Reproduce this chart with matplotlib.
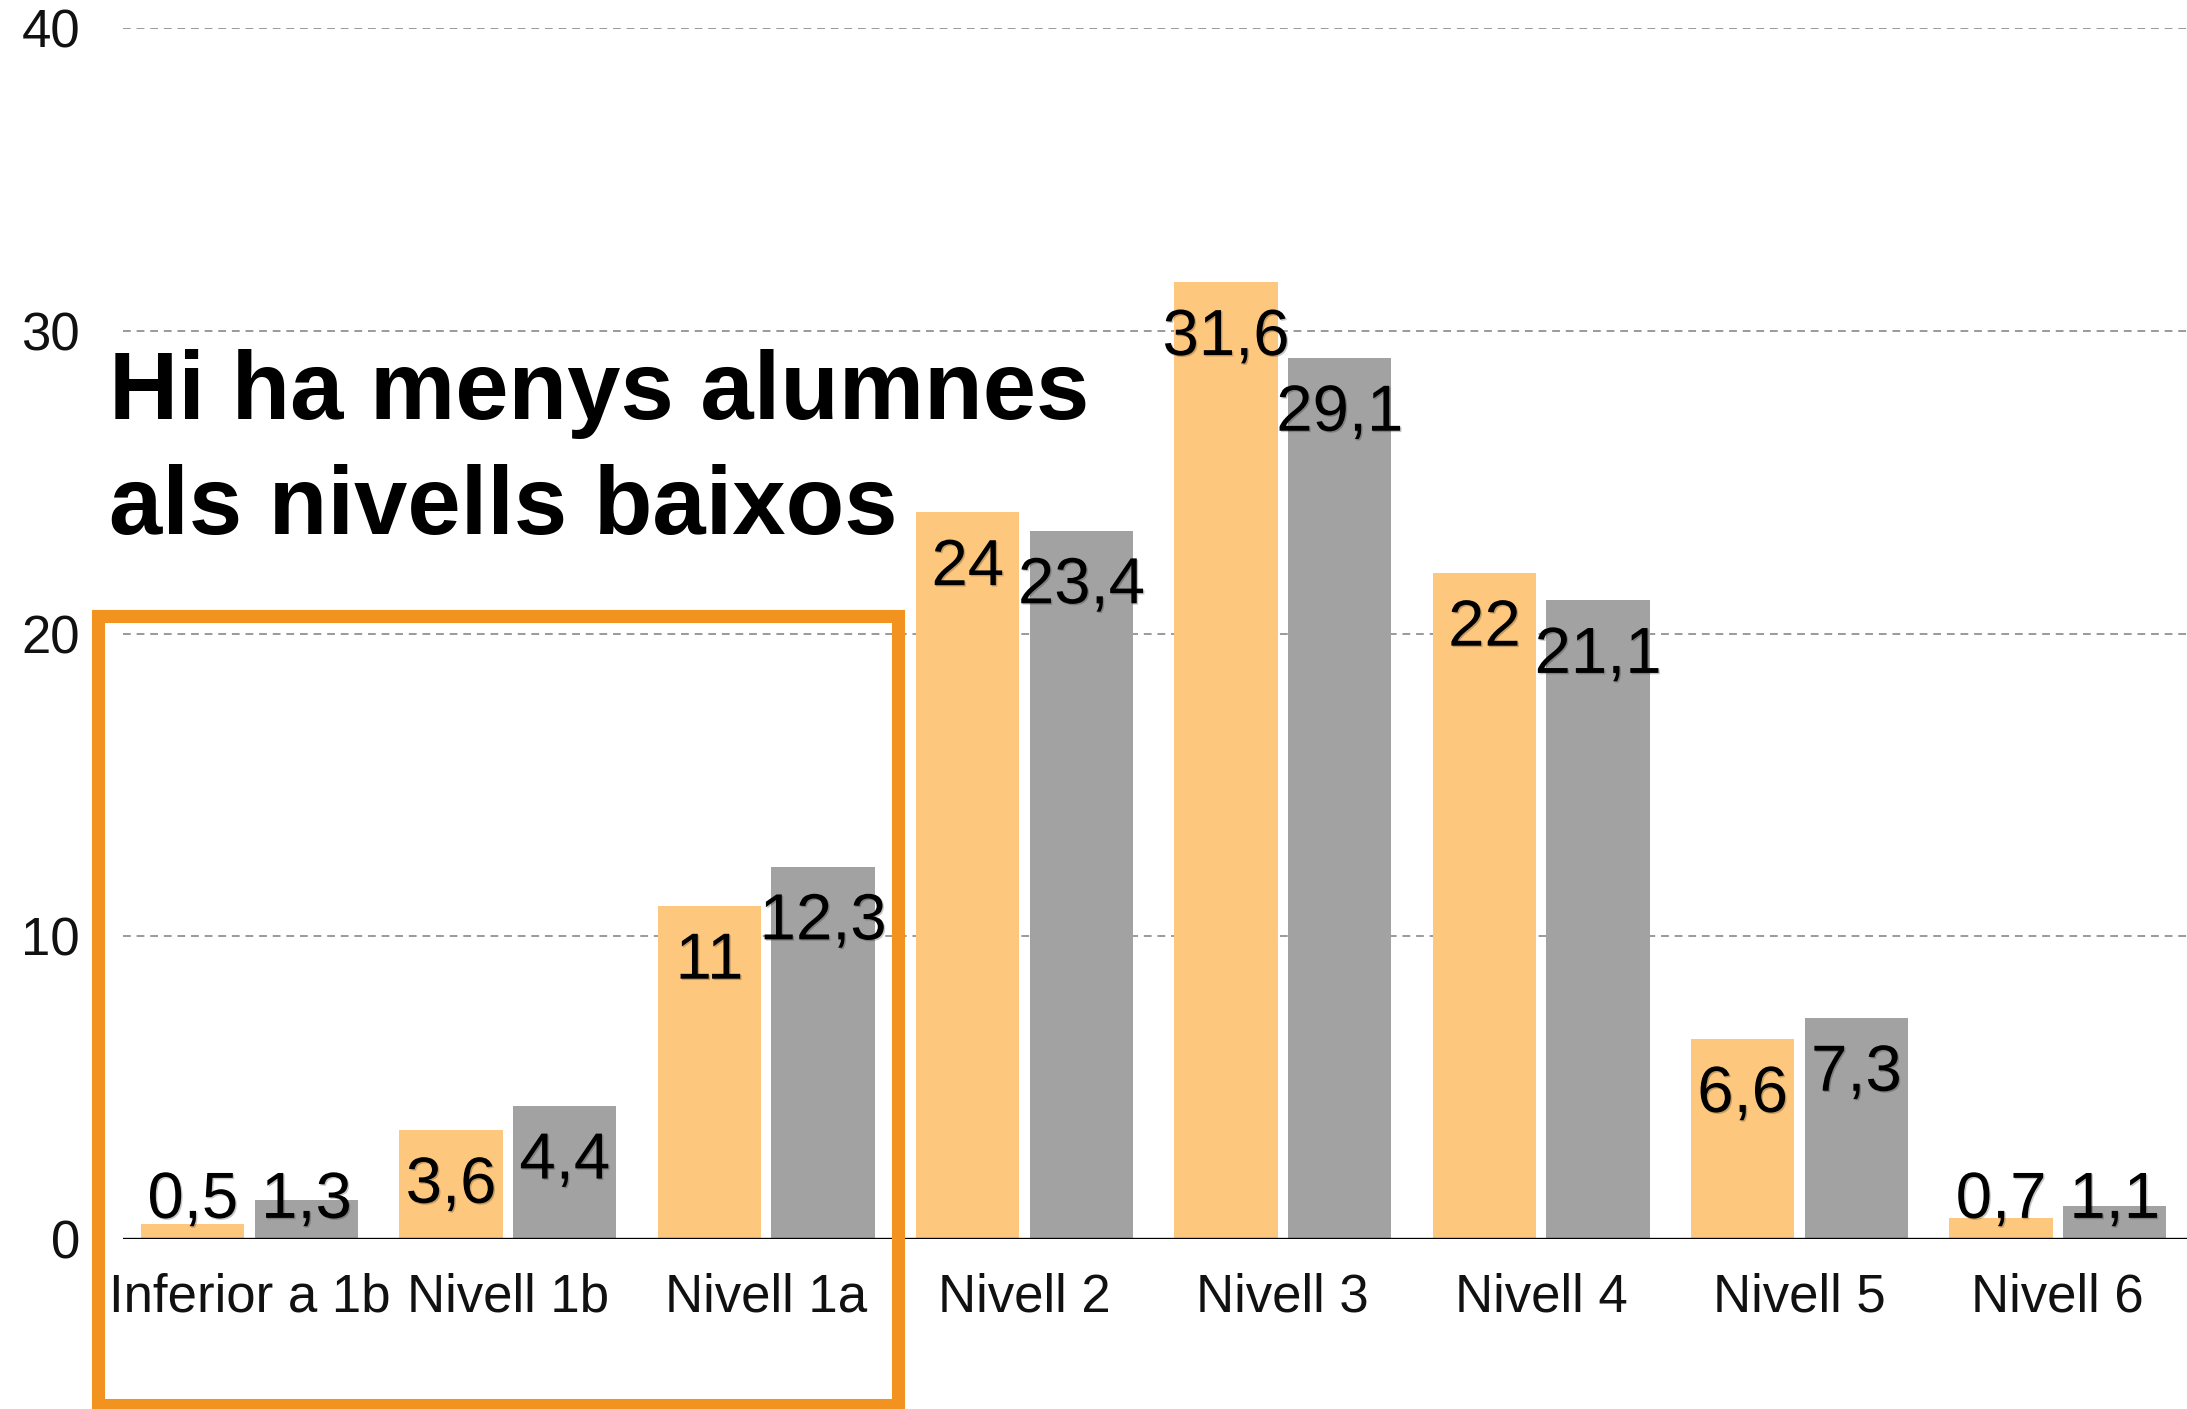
import matplotlib
matplotlib.use("Agg")
import matplotlib.pyplot as plt
from matplotlib.patches import Rectangle
import matplotlib.patheffects as pe
import numpy as np

plt.rcParams['font.family'] = ['Liberation Sans', 'DejaVu Sans']

categories = ["Inferior a 1b", "Nivell 1b", "Nivell 1a", "Nivell 2",
              "Nivell 3", "Nivell 4", "Nivell 5", "Nivell 6"]
serie_a = [0.5, 3.6, 11, 24, 31.6, 22, 6.6, 0.7]
serie_b = [1.3, 4.4, 12.3, 23.4, 29.1, 21.1, 7.3, 1.1]
yticks = [0, 10, 20, 30, 40]
title_lines = ["Hi ha menys alumnes", "als nivells baixos"]

W, H = 2187, 1409
fig = plt.figure(figsize=(W / 100, H / 100), dpi=100)
ax = fig.add_axes([123 / W, 1 - 1239 / H, 1 - 123 / W, (1239 - 28) / H])

x = np.arange(len(categories))
off = 0.22
bw = 0.4
ax.bar(x - off, serie_a, width=bw, color="#FDC77D", zorder=2)
ax.bar(x + off, serie_b, width=bw, color="#A2A2A2", zorder=2)

def fmt(v):
    return f"{v:g}".replace(".", ",")

shadow = [pe.withSimplePatchShadow(offset=(1.0, -1.0), shadow_rgbFace="black", alpha=0.22)]
for xs, vals in ((x - off, serie_a), (x + off, serie_b)):
    for xi, v in zip(xs, vals):
        ax.text(xi, max(v - 0.85, 2.25), fmt(v), ha="center", va="top",
                fontsize=47, color="black", zorder=4, path_effects=shadow)

ax.set_xlim(-0.49, 7.5)
ax.set_ylim(0, 40)
ax.set_yticks(yticks)
ax.set_yticklabels([str(t) for t in yticks])
ax.set_xticks(x)
ax.set_xticklabels(categories)
ax.tick_params(axis="y", length=0, pad=31, labelsize=38, labelcolor="#111111")
ax.tick_params(axis="x", length=0, pad=24, labelsize=38, labelcolor="#111111")

for t in yticks[1:]:
    ax.axhline(t, color="#9A9A9A", lw=1.4, ls=(0, (4, 3)), zorder=1)
ax.axhline(0, color="black", lw=2.4, zorder=3)

for s in ax.spines.values():
    s.set_visible(False)

fig.text(109 / W, 1 - 419 / H, title_lines[0], fontsize=69, fontweight="bold",
         ha="left", va="baseline", color="black")
fig.text(109 / W, 1 - 534 / H, title_lines[1], fontsize=69, fontweight="bold",
         ha="left", va="baseline", color="black")

rect = Rectangle((98 / W, 1 - 1405 / H), (898 - 98) / W, (1405 - 616) / H,
                 transform=fig.transFigure, fill=False, edgecolor="#F2921F",
                 lw=9.4, zorder=10, joinstyle="miter")
fig.patches.append(rect)

fig.savefig("out.png", dpi=100)
